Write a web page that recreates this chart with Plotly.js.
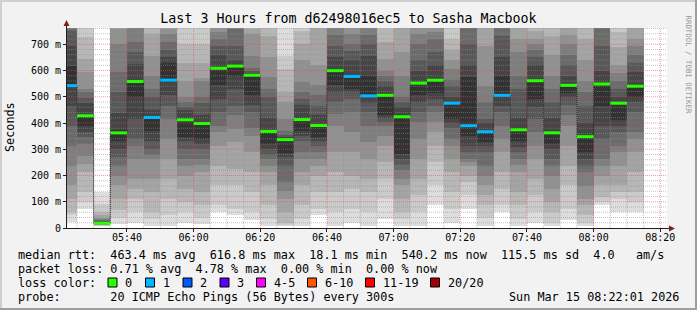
<!DOCTYPE html>
<html><head><meta charset="utf-8">
<script src="https://cdn.plot.ly/plotly-3.0.1.min.js"></script>
<style>html,body{margin:0;padding:0;background:#f2f2f2;}#chart{width:697px;height:310px;}</style>
</head><body><div id="chart"></div>
<script>
// ---------------- data ----------------
const chartTitle = 'Last 3 Hours from d62498016ec5 to Sasha Macbook';
const day = '2026-03-15';
const rangeStart = '05:22:01';
const rangeEnd = '08:22:01';
const binStart = ['05:20','05:25','05:30','05:35','05:40','05:45','05:50','05:55','06:00','06:05','06:10','06:15','06:20','06:25','06:30','06:35','06:40','06:45','06:50','06:55','07:00','07:05','07:10','07:15','07:20','07:25','07:30','07:35','07:40','07:45','07:50','07:55','08:00','08:05','08:10'];
// median rtt per 5-minute step (ms)
const medianMs = [542.5,427.5,18.1,362.5,558,421,563.5,412,398,608.5,616.8,582,368,336.5,413,390.5,599.5,577.5,503.5,505.5,423.8,552,563,475.5,389.8,366.8,505.5,374,561,362.5,543.5,348,548.5,475.5,540.2];
// lost pings (of 20) per step
const lostPings = [1,0,0,0,0,1,1,0,0,0,0,0,0,0,0,0,0,1,1,0,0,0,0,1,1,1,1,0,0,0,0,0,0,0,0];
// the 20 sorted ping times (ms) of each step, read from the smoke
const pingsByBin = [
 [22,48,60,111,162,238,314,390,466,536,619,695,752,760,800,830,860,890,920,950],
 [73,100,136,213,245,276,320,346,365,390,425,475,495,517,530,593,644,727,800,850],
 [6,8,10,11,12,13,14,15,16,17,19,22,26,30,36,40,50,60,90,138],
 [15,40,70,111,162,200,238,270,300,330,372,440,517,593,700,760,800,840,880,920],
 [20,60,111,150,187,263,314,340,416,498,560,624,670,710,790,830,860,900,950,1000],
 [9,35,60,136,187,263,280,300,330,370,421,450,500,530,580,655,740,800,850,900],
 [9,48,111,187,263,340,416,466,505,555,630,650,680,710,740,760,790,820,860,900],
 [20,60,98,149,200,238,263,300,330,345,412,450,460,480,500,560,630,700,780,850],
 [15,40,86,136,213,240,263,300,320,340,398,430,475,500,560,570,630,700,780,850],
 [60,86,162,238,314,365,390,441,492,543,609,660,695,720,746,800,850,900,950,1000],
 [50,73,162,225,327,378,430,466,530,580,617,640,695,760,790,820,850,880,920,960],
 [30,60,136,213,289,352,380,441,470,505,582,590,600,610,655,740,760,800,850,900],
 [9,35,86,162,213,238,263,280,301,320,368,420,500,530,575,650,730,780,830,880],
 [9,12,20,60,111,140,175,238,270,285,336,345,355,370,416,480,517,606,657,800],
 [9,35,86,162,213,263,289,330,352,370,413,470,490,520,555,640,700,750,800,850],
 [48,73,136,200,238,263,290,314,330,345,392,430,466,505,543,620,800,850,900,950],
 [9,60,136,213,289,390,435,480,520,543,600,650,695,735,800,840,880,920,960,1000],
 [20,73,150,200,289,365,441,492,517,530,577,640,675,700,740,800,840,880,920,960],
 [9,60,136,187,263,327,390,441,475,503,580,655,700,735,790,830,870,900,940,980],
 [35,111,187,250,314,350,390,403,420,430,505,540,560,580,600,644,710,760,800,850],
 [9,35,60,111,162,187,220,240,263,283,424,460,480,500,580,671,800,850,900,950],
 [9,60,124,187,263,340,403,441,480,505,552,600,640,700,740,780,820,860,900,950],
 [86,162,250,314,365,403,441,466,492,515,563,620,670,720,746,800,840,880,920,960],
 [20,73,136,213,263,314,340,380,400,416,475,500,540,565,605,640,680,720,800,850],
 [73,124,175,200,238,250,263,289,314,352,575,620,700,780,820,860,900,940,980,1020],
 [9,40,86,124,162,200,238,289,314,326,366,400,416,480,540,695,800,840,880,920],
 [60,86,150,213,289,340,390,441,466,500,580,650,730,780,820,860,900,940,980,1020],
 [9,35,86,136,213,240,263,289,310,330,374,420,530,580,670,720,800,850,900,950],
 [20,60,124,187,263,314,365,416,460,492,560,620,650,680,700,720,750,800,850,900],
 [9,20,60,100,149,200,238,263,300,320,362,420,480,530,580,660,730,800,850,900],
 [30,73,162,238,314,390,430,470,500,515,543,580,620,660,700,735,790,830,870,910],
 [9,20,48,86,111,160,213,238,263,290,348,400,466,520,560,640,720,800,850,900],
 [86,100,120,162,200,238,263,340,390,466,548,600,695,780,820,860,900,940,980,1020],
 [60,111,136,162,238,289,314,365,390,410,475,500,530,560,590,620,690,745,800,850],
 [60,98,136,213,289,340,365,441,480,500,539,595,630,660,695,720,790,830,870,910]
];
const lossLabels = ['0','1','2','3','4-5','6-10','11-19','20/20'];
const lossUpTo = [0,1,2,3,5,10,19,20];
const lossColors = ['#26ff00','#00b8ff','#0059ff','#5e00ff','#ff00ff','#ff5500','#ff0000','#a10000'];
const xTickLabels = ['05:40','06:00','06:20','06:40','07:00','07:20','07:40','08:00','08:20'];
const yTickVals = [0,0.1,0.2,0.3,0.4,0.5,0.6,0.7];
const yTickText = ['0','100 m','200 m','300 m','400 m','500 m','600 m','700 m'];
const legendLines = [
 'median rtt:  463.4 ms avg  616.8 ms max  18.1 ms min  540.2 ms now  115.5 ms sd  4.0   am/s',
 'packet loss: 0.71 % avg  4.78 % max  0.00 % min  0.00 % now',
 'loss color:',
 'probe:       20 ICMP Echo Pings (56 Bytes) every 300s'
];
const stampText = 'Sun Mar 15 08:22:01 2026';
const sideText = 'RRDTOOL / TOBI OETIKER';

// ---------------- helpers ----------------
const STEP = 300; // seconds
const smokeGrays = ['#dddddd','#cacaca','#b7b7b7','#a4a4a4','#919191','#7e7e7e','#6b6b6b','#585858','#454545','#323232'];
const pad = n => String(n).padStart(2,'0');
const toSec = s => { const p = s.split(':').map(Number); return p[0]*3600 + p[1]*60 + (p[2]||0); };
const toDate = sec => day+' '+pad(Math.floor(sec/3600))+':'+pad(Math.floor(sec%3600/60))+':'+pad(Math.round(sec%60));
const W = 697, H = 310, L = 67, R = 30, T = 28, B = 82;
const PW = W-L-R, PH = H-T-B;
const px = x => (x-L)/PW;
const py = y => (T+PH-y)/PH;
const YMAX = 0.762;
const FONT = 'DejaVu Sans Mono';

const startSec = binStart.map(toSec);
const centers = startSec.map(s => toDate(s + STEP/2));
const traces = [];

// smoke: band k spans ping k .. ping 21-k
for (let k = 0; k < 10; k++) {
  const base = pingsByBin.map(r => r[k]/1000);
  const hgt = pingsByBin.map(r => (r[19-k]-r[k])/1000);
  traces.push({type:'bar', x:centers, base:base, y:hgt, width:STEP*1000,
    marker:{color:smokeGrays[k], line:{width:0}}, hoverinfo:'skip', showlegend:false});
}

// grid (drawn over the smoke, as rrdtool does)
const r0 = toSec(rangeStart), r1 = toSec(rangeEnd);
const gx = (cond, color) => {
  const xs = [], ys = [];
  for (let s = Math.ceil(r0/STEP)*STEP; s <= r1; s += STEP) {
    if (cond(s)) { xs.push(toDate(s), toDate(s), null); ys.push(0, YMAX, null); }
  }
  return {type:'scatter', mode:'lines', x:xs, y:ys, line:{color:color, width:1, dash:'1px,1px'}, hoverinfo:'skip', showlegend:false};
};
const gy = (cond, color) => {
  const xs = [], ys = [];
  for (let i = 1; i*0.02 < YMAX; i++) {
    if (cond(i)) { xs.push(toDate(r0), toDate(r1), null); ys.push(i*0.02, i*0.02, null); }
  }
  return {type:'scatter', mode:'lines', x:xs, y:ys, line:{color:color, width:1, dash:'1px,1px'}, hoverinfo:'skip', showlegend:false};
};
const minorC = 'rgba(143,143,143,0.55)', majorC = 'rgba(222,79,79,0.55)';
traces.push(gx(s => s % 1200 !== 0, minorC));
traces.push(gy(i => i % 5 !== 0, minorC));
traces.push(gx(s => s % 1200 === 0, majorC));
traces.push(gy(i => i % 5 === 0, majorC));

// median step connector
const stepX = startSec.map(toDate).concat([toDate(startSec[startSec.length-1]+STEP)]);
const stepY = medianMs.map(v => v/1000).concat([medianMs[medianMs.length-1]/1000]);
traces.push({type:'scatter', mode:'lines', x:stepX, y:stepY, line:{shape:'hv', color:'#202020', width:1, dash:'1px,1px'}, hoverinfo:'skip', showlegend:false});

// colored median segments by loss class
lossColors.forEach((c, ci) => {
  const xs = [], ys = [];
  startSec.forEach((s, i) => {
    const cls = lossUpTo.findIndex(u => lostPings[i] <= u);
    if (cls === ci) { xs.push(toDate(s), toDate(s+STEP), null); ys.push(medianMs[i]/1000, medianMs[i]/1000, null); }
  });
  if (xs.length) traces.push({type:'scatter', mode:'lines', x:xs, y:ys, line:{color:c, width:3}, connectgaps:false, hoverinfo:'skip', showlegend:false});
});

// ---------------- layout ----------------
const shapes = [];
// frame shading
shapes.push({type:'line', xref:'paper', yref:'paper', x0:px(0), x1:px(W), y0:py(1), y1:py(1), line:{color:'#cfcfcf', width:2}});
shapes.push({type:'line', xref:'paper', yref:'paper', x0:px(1), x1:px(1), y0:py(0), y1:py(H), line:{color:'#cfcfcf', width:2}});
shapes.push({type:'line', xref:'paper', yref:'paper', x0:px(0), x1:px(W), y0:py(H-1), y1:py(H-1), line:{color:'#9e9e9e', width:2}});
shapes.push({type:'line', xref:'paper', yref:'paper', x0:px(W-1), x1:px(W-1), y0:py(0), y1:py(H), line:{color:'#9e9e9e', width:2}});
// axis extensions and arrows
shapes.push({type:'line', xref:'paper', yref:'paper', x0:px(66.5), x1:px(66.5), y0:py(T), y1:py(24), line:{color:'#1f1f1f', width:1}});
shapes.push({type:'path', xref:'paper', yref:'paper', path:`M ${px(63.5)},${py(26)} L ${px(66.5)},${py(20)} L ${px(69.5)},${py(26)} Z`, fillcolor:'#801f1f', line:{width:0}});
shapes.push({type:'line', xref:'paper', yref:'paper', x0:px(L+PW), x1:px(671), y0:py(228.5), y1:py(228.5), line:{color:'#1f1f1f', width:1}});
shapes.push({type:'path', xref:'paper', yref:'paper', path:`M ${px(669)},${py(225.5)} L ${px(675)},${py(228.5)} L ${px(669)},${py(231.5)} Z`, fillcolor:'#801f1f', line:{width:0}});

const ann = [];
const nb = s => s.replace(/ /g, '\u00a0');
const textAt = (x, y, text, opt) => Object.assign({xref:'paper', yref:'paper', x:px(x), y:py(y), text:nb(text), showarrow:false,
  xanchor:'left', yanchor:'middle', font:{family:FONT, size:11.8, color:'#000000'}}, opt||{});
const rowY = [254.5, 268.5, 282.5, 296.5];
legendLines.forEach((t, i) => ann.push(textAt(16, rowY[i], t)));
ann.push(textAt(680.5, rowY[3], stampText, {xanchor:'right'}));
// loss colour swatches
const swatchX = [108, 145.5, 183, 220, 256.5, 307.5, 365.5, 430.5];
lossLabels.forEach((lab, i) => {
  shapes.push({type:'rect', xref:'paper', yref:'paper', x0:px(swatchX[i]), x1:px(swatchX[i]+9), y0:py(278), y1:py(287),
    fillcolor:lossColors[i], line:{color:'#000000', width:1}});
  ann.push(textAt(swatchX[i]+15, rowY[2], lab));
});
ann.push(textAt(10, 127, 'Seconds', {xanchor:'center', textangle:-90}));
ann.push(textAt(688.5, 64, sideText, {xanchor:'center', textangle:90, font:{family:FONT, size:7.4, color:'#999999'}}));

const layout = {
  width:W, height:H, margin:{l:L, r:R, t:T, b:B, pad:0},
  paper_bgcolor:'#f2f2f2', plot_bgcolor:'#ffffff',
  barmode:'overlay', bargap:0, bargroupgap:0, showlegend:false,
  title:{text:chartTitle, font:{family:FONT, size:13.3, color:'#000000'}, x:0.5, xref:'container', xanchor:'center', y:1-18.5/H, yref:'container', yanchor:'middle'},
  xaxis:{type:'date', range:[day+' '+rangeStart, day+' '+rangeEnd], showgrid:false, zeroline:false,
    tickvals:xTickLabels.map(t => day+' '+t+':00'), ticktext:xTickLabels,
    ticks:'outside', ticklen:3, tickcolor:'#1f1f1f', showline:true, linecolor:'#1f1f1f', linewidth:1,
    ticklabelstandoff:-3,
    tickfont:{family:FONT, size:10, color:'#000000'}, fixedrange:true},
  yaxis:{range:[0, YMAX], showgrid:false, zeroline:false, tickvals:yTickVals, ticktext:yTickText,
    ticks:'outside', ticklen:3, tickcolor:'#1f1f1f', showline:true, linecolor:'#1f1f1f', linewidth:1,
    tickfont:{family:FONT, size:10, color:'#000000'}, fixedrange:true},
  shapes:shapes, annotations:ann
};
Plotly.newPlot('chart', traces, layout, {staticPlot:true, displayModeBar:false});
</script></body></html>
